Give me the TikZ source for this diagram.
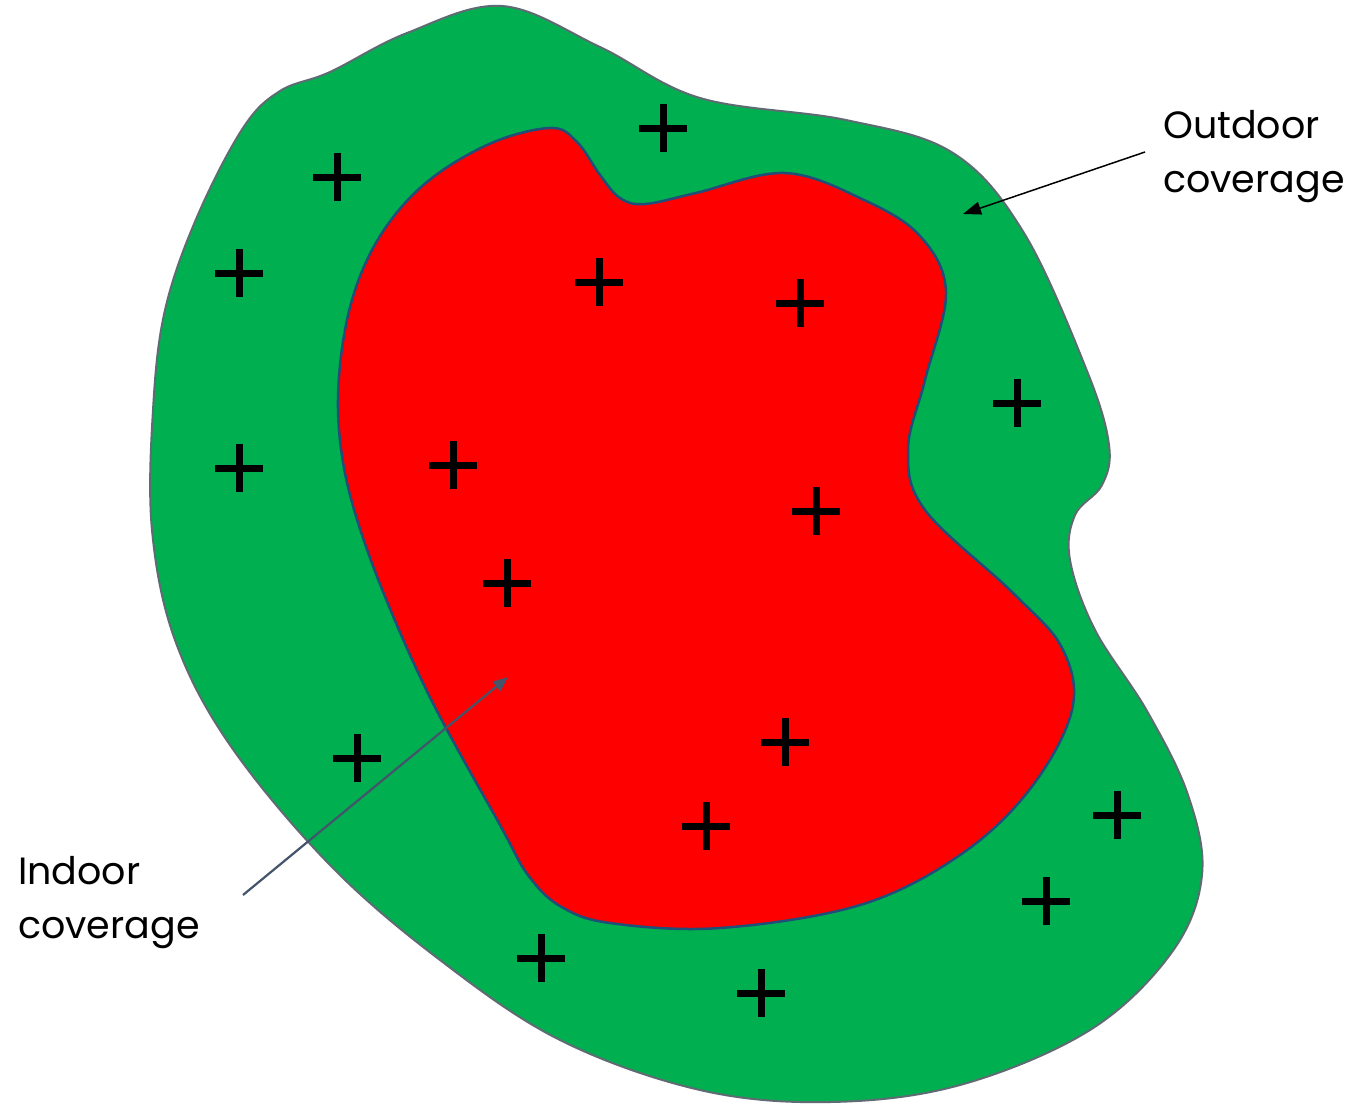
\documentclass[tikz,border=0pt]{standalone}
\usepackage{fontspec}
\setmainfont{Poppins}
\usetikzlibrary{arrows.meta}
\definecolor{zgreen}{HTML}{00B050}
\definecolor{zred}{HTML}{FF0000}
\definecolor{zgline}{HTML}{5F6B73}
\definecolor{zrline}{HTML}{1F4E79}
\definecolor{zslate}{HTML}{44546A}
\tikzset{
  outer/.style={fill=zgreen, draw=zgline, line width=2},
  inner/.style={fill=zred, draw=zrline, line width=2.5},
  lbl/.style={font=\fontsize{38}{54}\selectfont, align=left, inner sep=0pt, text=black},
  pls/.pic={\draw[line width=7, black] (-24,0) -- (24,0) (0,-24) -- (0,24);}
}
\begin{document}
\begin{tikzpicture}[x=1pt, y=-1pt]
\useasboundingbox (0,0) rectangle (1362,1103);
\fill[white] (0,0) rectangle (1362,1103);
% outdoor (green) region
\draw[outer] plot[smooth cycle, tension=0.6] coordinates {
 (502,6) (600,47) (700,98) (846,120) (953,153) (1024,233) (1087,371)
 (1109,445) (1102,485) (1075,515) (1070,560) (1095,630) (1147,711)
 (1188,795) (1202,875) (1172,952) (1090,1030) (960,1085) (830,1102)
 (700,1090) (560,1040) (440,960) (330,865) (230,745) (175,640) (152,530)
 (153,410) (165,310) (197,217) (243,128) (280,91) (330,72) (407,33)};
% indoor (red) region
\draw[inner] plot[smooth cycle, tension=0.6] coordinates {
 (550,128) (577,142) (600,175) (620,198) (645,204) (696,193) (785,173)
 (864,200) (920,236) (946,292) (925,380) (908,450) (925,510) (1013,593)
 (1062,648) (1072,710) (1030,789) (960,855) (860,905) (720,928) (610,923)
 (560,906) (528,875) (500,825) (423,683) (362,535) (339,430) (345,330) (372,250)
 (420,188) (487,145)};
% plus marks
\foreach \px/\py in {663/128, 337/177, 239/273, 239/468, 599/282, 800/303,
  1017/403, 453/465, 816/511, 507/583, 357/758, 785/742, 706/826, 1117/815,
  1046/901, 541/958, 761/993}
  \pic at (\px,\py) {pls};
% labels
\node[lbl, anchor=base west] (outd) at (1163,192) {Outdoor\\coverage};
\node[lbl, anchor=base west] (ind) at (18,938) {Indoor\\coverage};
\coordinate (otail) at (1145,152);
\coordinate (ohead) at (963,214);
\coordinate (itail) at (243,895);
\coordinate (ihead) at (508,677);
\draw[black, line width=1.5, -{Triangle[length=18, width=13]}] (otail) -- (ohead);
\draw[zslate, line width=2.2, -{Triangle[length=15, width=12]}] (itail) -- (ihead);
\end{tikzpicture}
\end{document}
